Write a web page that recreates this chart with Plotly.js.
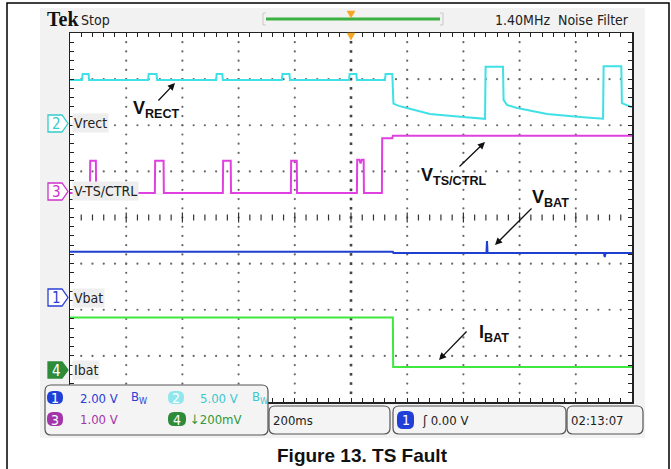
<!DOCTYPE html>
<html><head><meta charset="utf-8">
<script src="https://cdn.plot.ly/plotly-3.0.1.min.js"></script>
<style>html,body{margin:0;padding:0;background:#fff;}#chart{width:671px;height:469px;}</style>
</head><body><div id="chart"></div>
<script>
// ---------- DATA (time in ms, level in screen divisions) ----------
const vrectT = [-1000,-957,-955,-934,-932,-722,-720,-692,-690,-480,-478,-458,-456,-246,-244,-219,-217,-7,-5,19,21,121,123,147,151,170,199,281,399,477,479,541,543,555,591,698,815,897,899,962,964,1000];
const vrectY = [2.98,2.98,3.11,3.11,2.98,2.98,3.11,3.11,2.98,2.98,3.11,3.11,2.98,2.98,3.11,3.11,2.98,2.98,3.11,3.11,2.98,2.98,3.11,3.11,2.47,2.42,2.375,2.245,2.18,2.14,3.27,3.27,2.55,2.44,2.375,2.245,2.18,2.14,3.28,3.28,2.48,2.39];

const tsT = [-1000,-929,-928,-908,-907,-698,-697,-667,-666,-456,-455,-428,-427,-214,-213,-193,-192,21,22,30,34,38,45,46,110,111,147,149,1000];
const tsY = [0.53,0.53,1.23,1.23,0.53,0.53,1.23,1.23,0.53,0.53,1.23,1.23,0.53,0.53,1.23,1.23,0.53,0.53,1.25,1.25,1.17,1.25,1.25,0.53,0.53,1.72,1.72,1.77,1.77];

const vbatT = [-1000,149,151,482,484,486,900,903,906,1000];
const vbatY = [-0.74,-0.74,-0.77,-0.77,-0.51,-0.77,-0.77,-0.86,-0.77,-0.77];

const ibatT = [-1000,149,150,1000];
const ibatY = [-2.17,-2.17,-3.24,-3.24];

const channelNames = ['Vrect','V-TS/CTRL','Vbat','Ibat'];
const channelNums  = ['2','3','1','4'];
const scaleLabels  = ['2.00 V','5.00 V','1.00 V','\u2193200mV'];
const signalLabels = ['V<sub>RECT</sub>','V<sub>TS/CTRL</sub>','V<sub>BAT</sub>','I<sub>BAT</sub>'];
const timebase = '200ms', trigLabel = '\u0283 0.00 V', clock = '02:13:07';
const topLeft = 'Stop', topRight = '1.40MHz  Noise Filter';
const caption = 'Figure 13. TS Fault';

// ---------- LAYOUT HELPERS ----------
const L=70,R=632,T=33,B=402,W=R-L,H=B-T;
const px = x => (x-L)/W, py = y => (B-y)/H;
const NARROW = '"Liberation Sans Narrow","DejaVu Sans Condensed","Arial Narrow",sans-serif';
const ARIAL = '"Liberation Sans",Arial,sans-serif';
const C = {cyan:'#3fe0e6', mag:'#e040e0', blue:'#1f3fd0', green:'#3ee83e', dgreen:'#2e8b3a', purple:'#a235a8'};

function rr(x0,y0,x1,y1,r){
  return `M${px(x0+r)},${py(y0)} L${px(x1-r)},${py(y0)} Q${px(x1)},${py(y0)} ${px(x1)},${py(y0+r)} L${px(x1)},${py(y1-r)} Q${px(x1)},${py(y1)} ${px(x1-r)},${py(y1)} L${px(x0+r)},${py(y1)} Q${px(x0)},${py(y1)} ${px(x0)},${py(y1-r)} L${px(x0)},${py(y0+r)} Q${px(x0)},${py(y0)} ${px(x0+r)},${py(y0)} Z`;
}
function pent(x0,y0,x1,y1){
  const yc=(y0+y1)/2;
  return `M${px(x0)},${py(y0)} L${px(x1-6)},${py(y0)} L${px(x1)},${py(yc)} L${px(x1-6)},${py(y1)} L${px(x0)},${py(y1)} Z`;
}
const shapes=[], ann=[];
function box(x0,y0,x1,y1,r,fill,line,lw,layer){
  shapes.push({type:'path',xref:'paper',yref:'paper',path:rr(x0,y0,x1,y1,r),fillcolor:fill,line:{color:line||fill,width:lw||0.01},layer:layer||'above'});
}
function txt(x,y,text,size,color,family,xanchor,extra){
  ann.push(Object.assign({xref:'paper',yref:'paper',x:px(x),y:py(y),text:text,showarrow:false,
    xanchor:xanchor||'left',yanchor:'middle',font:{size:size,color:color,family:family||NARROW}},extra||{}));
}

// background areas
shapes.push({type:'rect',xref:'paper',yref:'paper',x0:px(40),x1:px(645),y0:py(8),y1:py(438),fillcolor:'#f2f2f2',line:{width:0},layer:'below'});
shapes.push({type:'rect',xref:'x',yref:'y',x0:-1000,x1:1000,y0:-4,y1:4,fillcolor:'#ffffff',line:{width:0},layer:'below'});
// outer border
shapes.push({type:'rect',xref:'paper',yref:'paper',x0:px(7),x1:px(669),y0:py(3),y1:py(480),line:{color:'#000',width:1.5},fillcolor:'rgba(0,0,0,0)',layer:'above'});

// top bar
txt(45,19,'<b>Tek</b>',20,'#111','"Liberation Serif","DejaVu Serif",serif');
txt(79,20,topLeft,14,'#222');
txt(631,20,topRight,14,'#222',NARROW,'right');
shapes.push({type:'line',xref:'paper',yref:'paper',x0:px(266),x1:px(440),y0:py(19),y1:py(19),line:{color:'#3cb043',width:3},layer:'above'});
[[263,1],[443,-1]].forEach(([x,d])=>{
  shapes.push({type:'path',xref:'paper',yref:'paper',path:`M${px(x+3*d)},${py(13)} L${px(x)},${py(13)} L${px(x)},${py(25)} L${px(x+3*d)},${py(25)}`,line:{color:'#c8c8c8',width:1},layer:'above'});
});
shapes.push({type:'path',xref:'paper',yref:'paper',path:`M${px(347)},${py(11)} L${px(355)},${py(11)} L${px(351)},${py(18)} Z`,fillcolor:'#f5a623',line:{color:'#f5a623',width:0.5},layer:'above'});
shapes.push({type:'path',xref:'paper',yref:'paper',path:`M${px(347)},${py(33)} L${px(355)},${py(33)} L${px(351)},${py(40)} Z`,fillcolor:'#f5a623',line:{color:'#f5a623',width:0.5},layer:'above'});

// channel markers + names
const mk = [
  {y0:115,y1:132,col:'#33cccc',fill:'#ffffff',tc:'#33cccc'},
  {y0:183,y1:200,col:'#cc33cc',fill:'#ffffff',tc:'#cc33cc'},
  {y0:289,y1:306,col:'#2a3fd6',fill:'#ffffff',tc:'#2a3fd6'},
  {y0:362,y1:378,col:'#2e8b3a',fill:'#2e8b3a',tc:'#ffffff'}
];
mk.forEach((m,i)=>{
  shapes.push({type:'path',xref:'paper',yref:'paper',path:pent(48,m.y0,68,m.y1),fillcolor:m.fill,line:{color:m.col,width:1.3},layer:'above'});
  txt(56,(m.y0+m.y1)/2+0.5,channelNums[i],15,m.tc,NARROW,'center');
  txt(72,(m.y0+m.y1)/2,channelNames[i],14,'#222',NARROW,'left',{bgcolor:'#eeeeee',borderpad:1});
});

// signal annotations + arrows
const sig = [
  {x:131,y:109,hx:175,hy:83,ax:-18,ay:19},
  {x:419,y:176,hx:485,hy:142,ax:-27,ay:26},
  {x:530,y:198,hx:495,hy:245,ax:38,ay:-38},
  {x:477,y:333,hx:439,hy:360,ax:29,ay:-30}
];
sig.forEach((s,i)=>{
  txt(s.x,s.y,'<b>'+signalLabels[i]+'</b>',18,'#111',ARIAL,'left');
  ann.push({xref:'paper',yref:'paper',x:px(s.hx),y:py(s.hy),ax:s.ax,ay:s.ay,text:'',showarrow:true,arrowhead:2,arrowsize:1.1,arrowwidth:1.3,arrowcolor:'#111',standoff:0});
});

// bottom info panel
box(45,385,268,435,6,'#f4f4f4','#555',1.2);
box(47,391,63,404,6,'#1f3fd6');
box(168,391,184,404,6,'#8fe6ec');
box(47,412,63,426,6,C.purple);
box(168,412,186,426,6,C.dgreen);
txt(55,398,'1',14,'#fff',NARROW,'center');
txt(176,398,'2',14,'#fff',NARROW,'center');
txt(55,419.5,'3',14,'#fff',NARROW,'center');
txt(177,419.5,'4',14,'#fff',NARROW,'center');
txt(78,398,scaleLabels[0],13,'#2a3fd6');
txt(129,397,'B<sub>W</sub>',13,'#2a3fd6');
txt(198,398,scaleLabels[1],13,'#3cc8d0');
txt(250,397,'B<sub>W</sub>',13,'#3cc8d0');
txt(78,419.5,scaleLabels[2],13,C.purple);
txt(188,419.5,scaleLabels[3],13,'#2e9a3a');

box(269,406,390,434,6,'#f4f4f4','#555',1.2);
txt(271,420,timebase,13,'#222');
box(393,406,566,434,6,'#f4f4f4','#555',1.2);
box(397,411,414,429,6,'#1f3fd6');
txt(405.5,420,'1',14,'#fff',NARROW,'center');
txt(420,420,trigLabel,13,'#222');
box(567,406,643,434,6,'#f4f4f4','#555',1.2);
txt(569,420,clock,13,'#222');

// caption
txt(362,455,'<b>'+caption+'</b>',19,'#111',ARIAL,'center');

// ---------- GRATICULE (computed from axis divisions) ----------
const gx=[],gy=[];
[-3,-2,-1,1,2,3].forEach(j=>{for(let k=-24;k<=24;k++){gx.push(40*k);gy.push(j);}});
[-4,-3,-2,-1,1,2,3,4].forEach(i=>{for(let k=-19;k<=19;k++){gx.push(200*i);gy.push(0.2*k);}});
const cvx=[],cvy=[];
for(let k=-19;k<=19;k++){cvx.push(0);cvy.push(0.2*k);}
const chx=[],chy=[];
for(let k=-24;k<=24;k++){const h=(k%5===0)?0.11:0.065;chx.push(40*k,40*k,null);chy.push(-h,h,null);}
const xt=[];for(let k=-25;k<=25;k++)xt.push(40*k);
const yt=[];for(let k=-20;k<=20;k++)yt.push(0.2*k);

const traces=[
  {x:gx,y:gy,mode:'markers',marker:{size:2.2,color:'#666'},hoverinfo:'skip'},
  {x:cvx,y:cvy,mode:'markers',marker:{size:2.6,symbol:'square',color:'#444'},hoverinfo:'skip'},
  {x:chx,y:chy,mode:'lines',line:{color:'#333',width:1.2},connectgaps:false,hoverinfo:'skip'},
  {x:ibatT,y:ibatY,mode:'lines',line:{color:C.green,width:2},name:'Ibat'},
  {x:vbatT,y:vbatY,mode:'lines',line:{color:C.blue,width:2},name:'Vbat'},
  {x:tsT,y:tsY,mode:'lines',line:{color:C.mag,width:2},name:'V-TS/CTRL'},
  {x:vrectT,y:vrectY,mode:'lines',line:{color:C.cyan,width:2},name:'Vrect'}
];

const layout={
  width:671,height:469,margin:{l:L,r:671-R,t:T,b:469-B,pad:0},
  paper_bgcolor:'#ffffff',plot_bgcolor:'#ffffff',showlegend:false,
  xaxis:{range:[-1000,1000],showgrid:false,zeroline:false,showline:true,linecolor:'#222',linewidth:1.5,mirror:'ticks',
         ticks:'inside',tickmode:'array',tickvals:xt,ticklen:4,tickcolor:'#222',tickwidth:1,showticklabels:false,fixedrange:true},
  yaxis:{range:[-4,4],showgrid:false,zeroline:false,showline:true,linecolor:'#222',linewidth:1.5,mirror:'ticks',
         ticks:'inside',tickmode:'array',tickvals:yt,ticklen:4,tickcolor:'#222',tickwidth:1,showticklabels:false,fixedrange:true},
  shapes:shapes,annotations:ann
};
Plotly.newPlot('chart',traces,layout,{staticPlot:true,displayModeBar:false});
</script></body></html>
